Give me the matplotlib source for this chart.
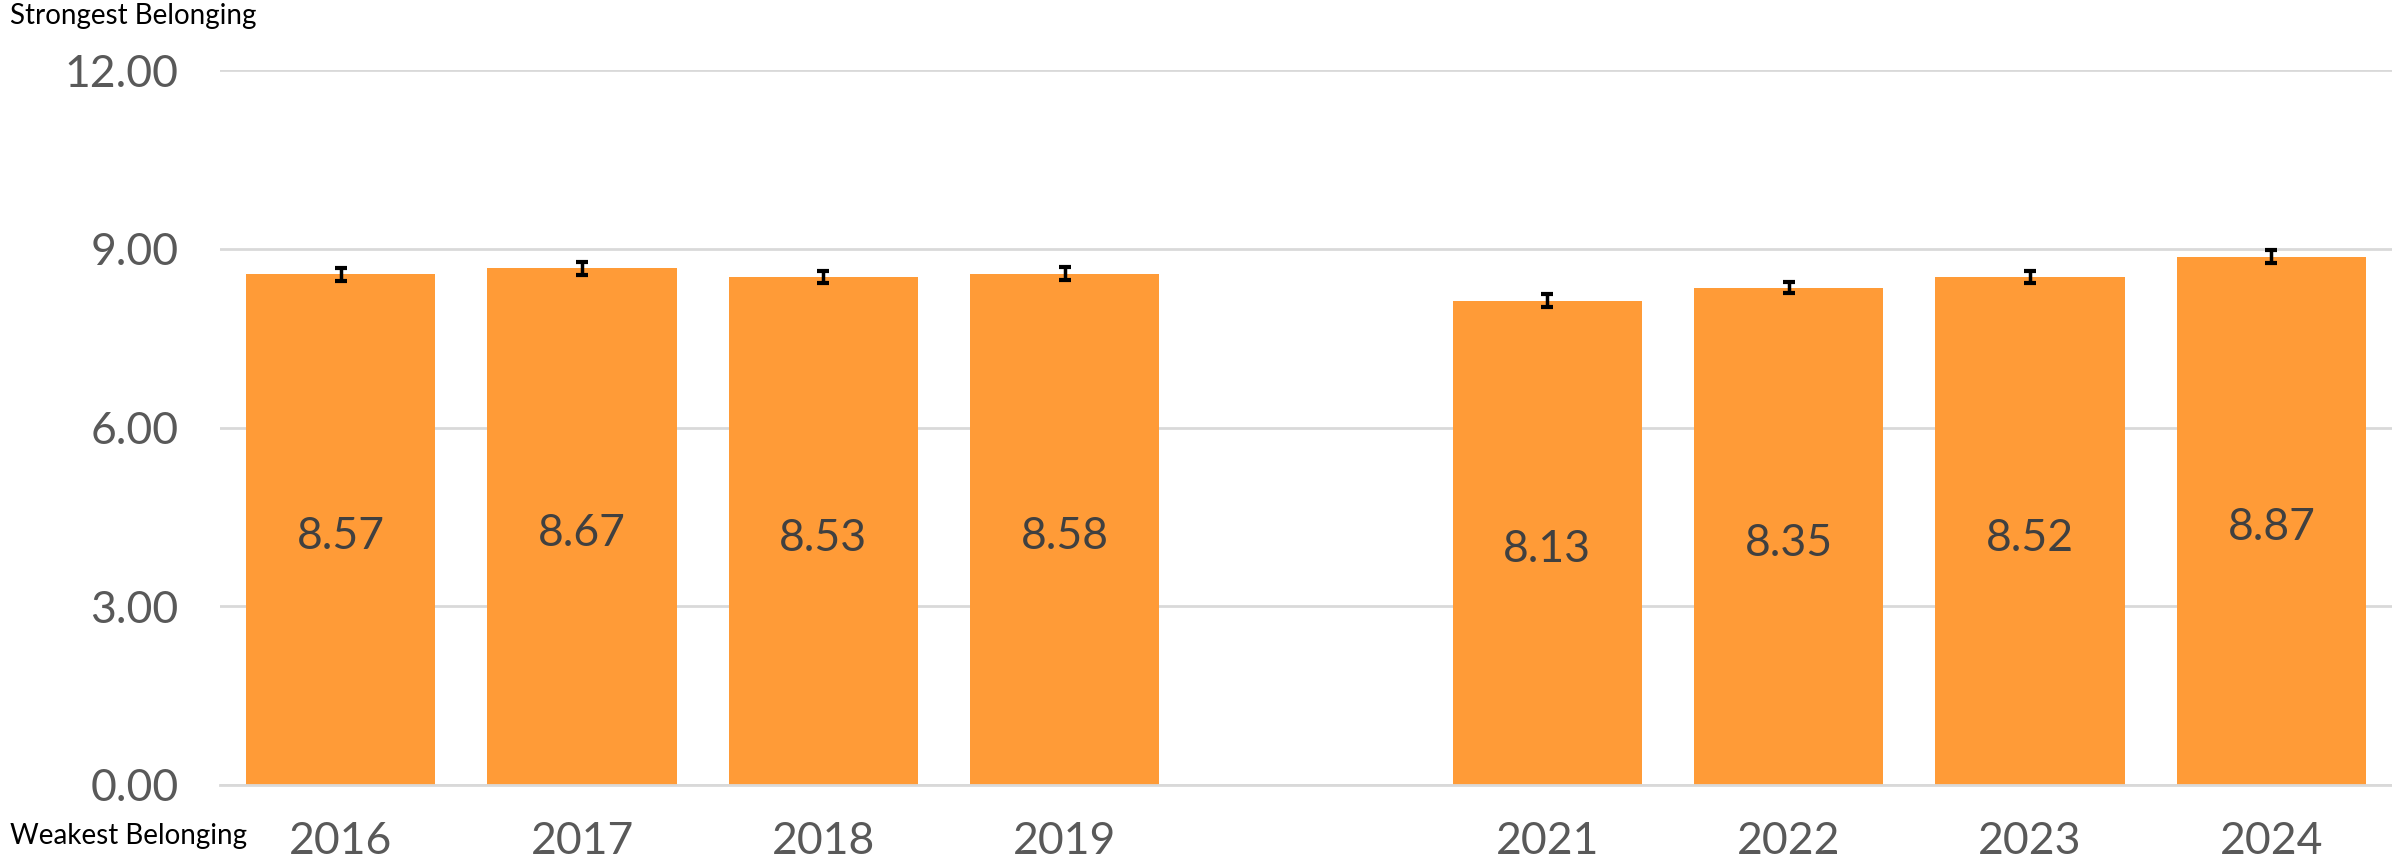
import numpy as np
import matplotlib
matplotlib.use("Agg")
import matplotlib.pyplot as plt

years = ["2016", "2017", "2018", "2019", "", "2021", "2022", "2023", "2024"]
scores = [8.57, 8.67, 8.53, 8.58, np.nan, 8.13, 8.35, 8.52, 8.87]
errors = [0.11, 0.11, 0.10, 0.11, np.nan, 0.11, 0.10, 0.10, 0.11]
yticks = [0, 3, 6, 9, 12]

plt.rcParams['font.family'] = ['Lato', 'DejaVu Sans']

fig = plt.figure(figsize=(23.92, 8.65), dpi=100)
ax = fig.add_axes([0.092, 0.0925, 0.908, 0.8265])

x = np.arange(len(years))
vals = np.array(scores)
errs = np.array(errors)
ok = ~np.isnan(vals)

ax.bar(x[ok], vals[ok], width=0.785, color="#FF9B37", zorder=2)
ax.errorbar(x[ok], vals[ok], yerr=errs[ok], fmt="none", ecolor="black",
            elinewidth=2.5, capsize=4.5, capthick=3, zorder=3)

# labels sit in the middle of each bar
for xi, v in zip(x[ok], vals[ok]):
	ax.text(xi, v / 2 - 0.12, "%.2f" % v, ha="center", va="center",
	        fontsize=32, color="#404040", zorder=4)

ax.set_xlim(-0.5, 8.5)
ax.set_ylim(0, 12)
ax.set_yticks(yticks)
ax.set_yticklabels(["%.2f" % t for t in yticks])
ax.set_xticks(x)
ax.set_xticklabels(years)
ax.tick_params(axis="both", length=0, labelsize=32, labelcolor="#595959")
ax.tick_params(axis="y", pad=30)
ax.tick_params(axis="x", pad=26)

ax.grid(axis="y", color="#d9d9d9", linewidth=2, zorder=0)
ax.set_axisbelow(True)
for s in ["top", "right", "left"]:
	ax.spines[s].set_visible(False)
ax.spines["bottom"].set_color("#d9d9d9")
ax.spines["bottom"].set_linewidth(2)

fig.text(0.004, 0.997, "Strongest Belonging", ha="left", va="top", fontsize=20, color="black")
fig.text(0.004, 0.034, "Weakest Belonging", ha="left", va="center", fontsize=20, color="black")

plt.savefig("out.png", dpi=100)
plt.close()
